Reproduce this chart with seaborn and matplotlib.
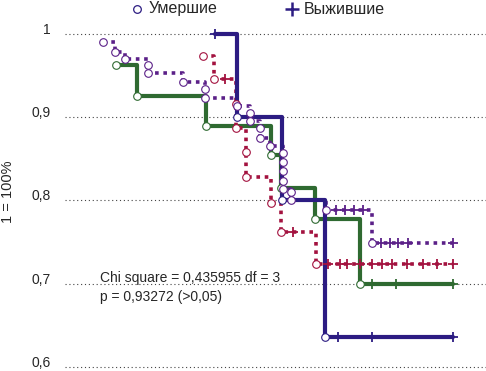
import numpy as np
import pandas as pd
import seaborn as sns
import matplotlib.pyplot as plt
import matplotlib.transforms as mtransforms
from matplotlib.lines import Line2D

sns.set_style('white')
plt.rcParams['font.family'] = ['Liberation Sans', 'DejaVu Sans']

# Kaplan-Meier curves, time in arbitrary units (x axis is unlabelled)
# navy, solid
navy_start = 35.6
navy_death_t = [40.9, 51.5, 61.8]
navy_death_s = [0.900, 0.800, 0.636]
navy_cens_t = [35.6, 64.8, 72.9, 92.2]

# green, solid
green_start = None
green_death_t = [12.1, 17.1, 33.5, 48.9, 51.3, 59.4, 70.1]
green_death_s = [0.963, 0.926, 0.889, 0.855, 0.815, 0.778, 0.700]
green_cens_t = [72.9, 78.6, 92.2]

# purple, dotted
purple_start = None
purple_death_t = [9.0, 11.9, 14.3, 19.7, 19.7, 28.0, 33.3, 33.3, 40.9, 43.9, 43.9,
                  46.3, 46.3, 48.7, 51.8, 51.8, 51.8, 51.8, 51.8, 53.7, 53.7, 62.0, 72.9]
purple_death_s = [0.990, 0.978, 0.970, 0.963, 0.953, 0.942, 0.934, 0.923, 0.913, 0.905, 0.895,
                  0.887, 0.875, 0.865, 0.857, 0.846, 0.835, 0.824, 0.814, 0.810, 0.800, 0.788, 0.749]
purple_cens_t = [64.4, 66.5, 68.6, 70.8, 75.1, 77.2, 79.1, 81.5, 92.2]

# red, dotted
red_start = None
red_death_t = [32.8, 35.4, 40.6, 40.6, 43.0, 43.0, 48.9, 51.3, 59.6]
red_death_s = [0.973, 0.946, 0.916, 0.887, 0.858, 0.828, 0.797, 0.762, 0.724]
red_cens_t = [38.0, 54.2, 62.5, 65.3, 67.0, 70.1, 72.9, 75.3, 77.7, 81.2, 85.0, 88.4, 92.2]

y_ticks = [0.6, 0.7, 0.8, 0.9, 1.0]
y_tick_labels = ['0,6', '0,7', '0,8', '0,9', '1']

series = [
    ('green', '#2f6a31', '-', 3.0, green_start, green_death_t, green_death_s, green_cens_t),
    ('red', '#a3123f', (0, (1, 1.3)), 2.6, red_start, red_death_t, red_death_s, red_cens_t),
    ('purple', '#5b2088', (0, (1, 1.3)), 2.6, purple_start, purple_death_t, purple_death_s, purple_cens_t),
    ('navy', '#2c1c82', '-', 3.0, navy_start, navy_death_t, navy_death_s, navy_cens_t),
]

fig = plt.figure(figsize=(4.86, 3.71), dpi=100)
ax = fig.add_axes([65 / 486, 0, 421 / 486, 351 / 371])

for y in y_ticks:
    ax.axhline(y, color='#444444', lw=0.8, ls=(0, (1, 2.5)), zorder=1)

for i, (name, color, ls, lw, start, dt, ds, ct) in enumerate(series):
    if start is not None:
        t = [start] + dt
        s = [1.0] + ds
    else:
        t = list(dt)
        s = list(ds)
    end = max(ct)
    t = t + [end]
    s = s + [s[-1]]
    df = pd.DataFrame({'t': t, 's': s})
    sns.lineplot(data=df, x='t', y='s', ax=ax, estimator=None, sort=False,
                 drawstyle='steps-post', color=color, linewidth=lw, linestyle=ls,
                 zorder=2 + i * 0.1)
    ax.lines[-1].set_dash_capstyle('butt')

    # censored level = survival just after last death at or before time
    ct_arr = np.array(ct)
    idx = np.searchsorted(np.array(dt), ct_arr, side='right') - 1
    cs = np.array([ds[j] if j >= 0 else 1.0 for j in idx])
    sns.scatterplot(x=ct_arr, y=cs, ax=ax, marker='+', color=color, s=60,
                    linewidth=1.3, zorder=4)
    sns.scatterplot(x=dt, y=ds, ax=ax, marker='o', s=30, facecolor='white',
                    edgecolor=color, linewidth=0.8, zorder=5)

ax.set_xlim(0, 100)
ax.set_ylim(0.5952, 1.0168)
ax.set_yticks(y_ticks)
ax.set_yticklabels(y_tick_labels, fontsize=10)
shift = mtransforms.ScaledTranslation(0, 2 / 100, fig.dpi_scale_trans)
for lbl in ax.get_yticklabels():
    lbl.set_verticalalignment('baseline')
    lbl.set_transform(lbl.get_transform() + shift)
ax.set_xticks([])
ax.tick_params(axis='y', length=0, pad=10)
ax.set_xlabel('')
ax.set_ylabel('')
for sp in ax.spines.values():
    sp.set_visible(False)

fig.text(0.016, 0.483, '1 = 100%', rotation=90, ha='center', va='center', fontsize=10.5)

ax.text(8.3, 0.707, 'Chi square = 0,435955 df = 3', fontsize=10, va='center', zorder=6)
ax.text(8.3, 0.684, 'p = 0,93272 (>0,05)', fontsize=10, va='center', zorder=6)

# legend drawn by hand above the plot
legend_color = '#2c1c82'
fig.add_artist(Line2D([137 / 486], [1 - 9 / 371], transform=fig.transFigure, marker='o',
                      ls='', mfc='white', mec=legend_color, ms=5.5, mew=0.9))
fig.text(149 / 486, 1 - 9 / 371, 'Умершие', fontsize=11.5, va='center', ha='left')
fig.add_artist(Line2D([292 / 486], [1 - 9 / 371], transform=fig.transFigure, marker='+',
                      ls='', color=legend_color, ms=10, mew=1.8))
fig.text(304 / 486, 1 - 9 / 371, 'Выжившие', fontsize=11.5, va='center', ha='left')

fig.savefig('out.png', dpi=100)
